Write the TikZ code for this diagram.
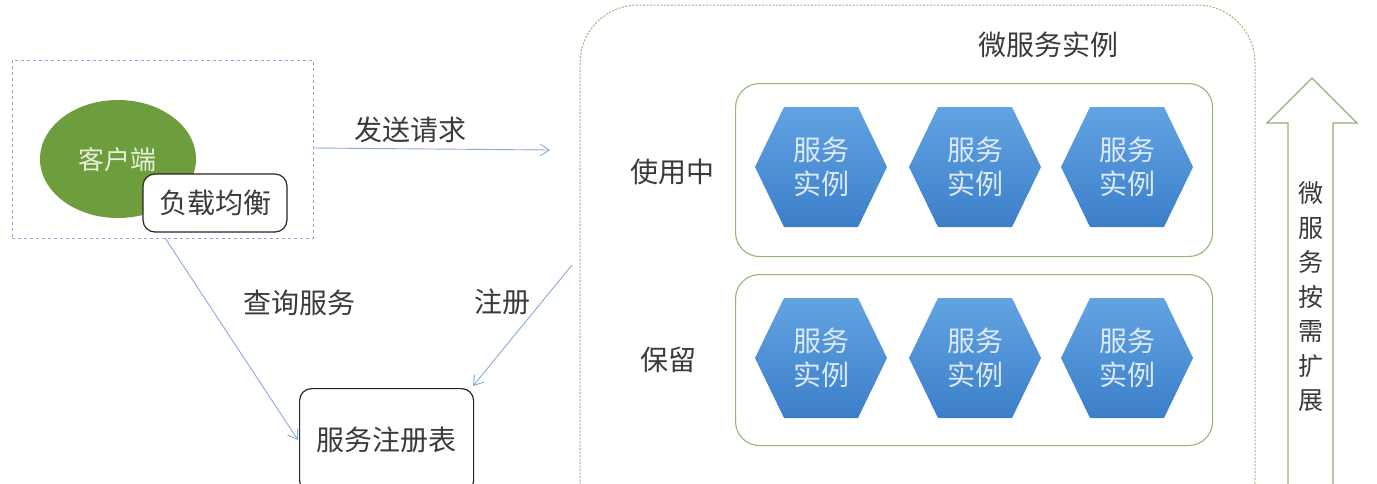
\documentclass[tikz,border=0pt]{standalone}
\usepackage{fontspec}
\setmainfont{Noto Sans CJK SC}
\usetikzlibrary{shapes.geometric,arrows.meta}
\definecolor{txt}{HTML}{3A3A3A}
\definecolor{arr}{HTML}{8AA9D8}
\definecolor{clientg}{HTML}{6E9D3E}
\definecolor{boxg}{HTML}{93B873}
\definecolor{hexA}{HTML}{62A3E2}
\definecolor{hexB}{HTML}{3C7FC9}
\definecolor{hextxt}{HTML}{DCEAF8}
\definecolor{clienttxt}{HTML}{E6F0D8}
\begin{document}
\begin{tikzpicture}[x=1pt,y=-1pt,
  lbl/.style={text=txt,font=\fontsize{28}{32}\selectfont,inner sep=0pt},
  rbox/.style={draw=black!85,line width=1.2pt,rounded corners=12pt,fill=white,text=txt,font=\fontsize{28}{32}\selectfont},
  conn/.style={draw=arr,line width=0.9pt,-{Straight Barb[length=9pt,width=12pt,line width=0.9pt]}},
  grp/.style={draw=boxg,line width=1.1pt,rounded corners=24pt},
  hexa/.style={top color=hexA,bottom color=hexB,draw=none}]
\useasboundingbox (0,0) rectangle (1377,483);
% client group
\node[draw=arr,dashed,line width=0.8pt,minimum width=301pt,minimum height=178pt,inner sep=0pt] (cgrp) at (162.5,149) {};
\node[ellipse,fill=clientg,minimum width=156pt,minimum height=118pt,text=clienttxt,font=\fontsize{26}{30}\selectfont] (client) at (118,159) {};
\node[text=clienttxt,font=\fontsize{26}{30}\selectfont,inner sep=0pt] (clientt) at (117,160) {客户端};
\node[rbox,minimum width=144pt,minimum height=58pt,inner sep=0pt] (lb) at (215,203) {负载均衡};
% registry
\node[rbox,minimum width=174pt,minimum height=104pt,inner sep=0pt,anchor=north west] (reg) at (299,388) {};
\node[lbl] (regt) at (386,440) {服务注册表};
% big microservice box
\draw[draw=boxg,dashed,dash pattern=on 2pt off 1.5pt,line width=1pt,rounded corners=58pt] (580,5) rectangle (1255,540);
\coordinate (bigW1) at (550,150);
\coordinate (bigW2) at (572,265);
\node[lbl] (mst) at (1048,45) {微服务实例};
\node[grp,minimum width=477pt,minimum height=173pt,anchor=north west] (use) at (735,83) {};
\node[grp,minimum width=477pt,minimum height=171pt,anchor=north west] (res) at (735,274) {};
\node[lbl] (uset) at (672,172) {使用中};
\node[lbl] (rest) at (668,360) {保留};
% hexagons
\foreach \cx/\cy/\n in {821/167/a1,975/167/a2,1127/167/a3,821/358/b1,975/358/b2,1127/358/b3}{
  \shade[hexa] (\cx-66,\cy) -- (\cx-37,\cy-60) -- (\cx+37,\cy-60) -- (\cx+66,\cy) -- (\cx+37,\cy+60) -- (\cx-37,\cy+60) -- cycle;
  \node[text=hextxt,font=\fontsize{28}{34}\selectfont,align=center,inner sep=0pt] (\n) at (\cx,\cy) {服务\\实例};
}
% scaling arrow
\draw[draw=boxg!85!gray,line width=1.1pt,fill=white] (1288,540) -- (1288,123) -- (1267,123) -- (1312,78) -- (1357,123) -- (1333,123) -- (1333,540);
\node[text=txt,font=\fontsize{25}{34.5}\selectfont,align=center,inner sep=0pt] (scale) at (1311,297) {微\\服\\务\\按\\需\\扩\\展};
% connectors
\coordinate (cE) at (313,148);
\coordinate (cS) at (165,238);
\coordinate (regW) at (298,440);
\coordinate (regNE) at (473,386);
\draw[conn] (cE) -- (bigW1);
\draw[conn] (cS) -- (regW);
\draw[conn] (bigW2) -- (regNE);
\node[lbl] (l1) at (410,130) {发送请求};
\node[lbl] (l2) at (299,303) {查询服务};
\node[lbl] (l3) at (502,302) {注册};
\end{tikzpicture}
\end{document}
